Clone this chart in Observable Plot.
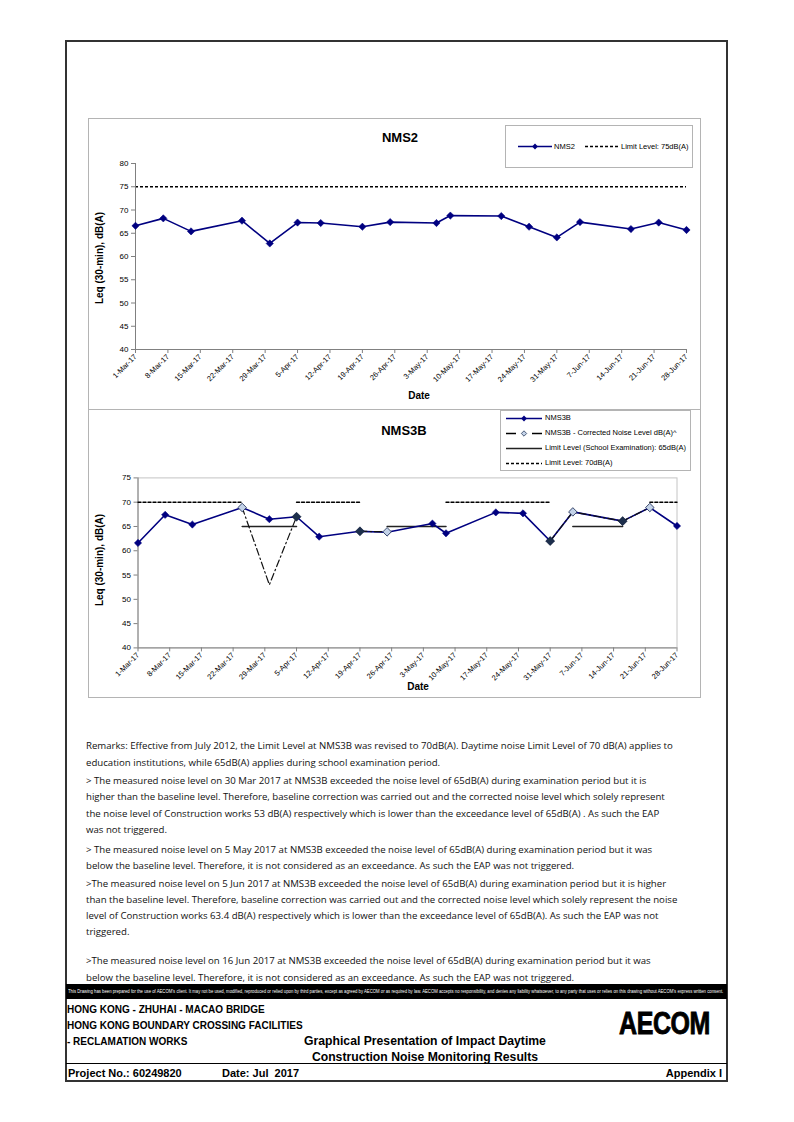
<!DOCTYPE html>
<html><head><meta charset="utf-8">
<script src="https://cdn.jsdelivr.net/npm/d3@7"></script>
<script src="https://cdn.jsdelivr.net/npm/@observablehq/plot@0.6"></script>
<style>
body{margin:0;background:#fff;}
#page{position:relative;width:794px;height:1122px;overflow:hidden;font-family:"Liberation Sans",Arial,sans-serif;color:#000;}
.a{position:absolute;white-space:nowrap;}
.a svg{display:block;}
.box{position:absolute;box-sizing:border-box;}
.lg{position:absolute;white-space:nowrap;font-size:7.5px;line-height:10px;color:#000;font-family:"Liberation Sans",Arial,sans-serif;}
.rm{position:absolute;white-space:nowrap;font-family:"Open Sans",sans-serif;font-size:10px;line-height:16px;color:#111;}
.ft{position:absolute;white-space:nowrap;font-weight:bold;color:#000;}
</style></head><body><div id="page"></div>
<script>
// ---------------- data ----------------
const sampleDates = ["1-Mar-17","7-Mar-17","13-Mar-17","24-Mar-17","30-Mar-17","5-Apr-17","10-Apr-17","19-Apr-17","25-Apr-17","5-May-17","8-May-17","19-May-17","25-May-17","31-May-17","5-Jun-17","16-Jun-17","22-Jun-17","28-Jun-17"];
const nms2Values = [66.6,68.2,65.4,67.7,62.8,67.3,67.2,66.4,67.4,67.2,68.8,68.7,66.4,64.1,67.4,65.9,67.3,65.7];
const nms2Limit = 75;
const nms3bValues = [61.6,67.4,65.4,68.9,66.5,67.0,62.9,64.0,63.8,65.6,63.6,67.9,67.7,62.0,68.0,66.1,68.9,65.1];
const nms3bCorrected = [null,null,null,68.9,53.0,67.0,null,64.0,63.9,null,null,null,null,62.0,68.0,66.1,68.9,null];
const nms3bLimit70 = [70,70,70,70,null,70,70,70,null,null,70,70,70,70,null,null,70,70];
const nms3bLimit65 = [null,null,null,65,65,65,null,null,65,65,65,null,null,null,65,65,null,null];
const correctedLightDates = ["24-Mar-17","25-Apr-17","5-Jun-17","22-Jun-17"];
const correctedDarkDates = ["5-Apr-17","19-Apr-17","31-May-17","16-Jun-17"];
const xTickLabels = ["1-Mar-17","8-Mar-17","15-Mar-17","22-Mar-17","29-Mar-17","5-Apr-17","12-Apr-17","19-Apr-17","26-Apr-17","3-May-17","10-May-17","17-May-17","24-May-17","31-May-17","7-Jun-17","14-Jun-17","21-Jun-17","28-Jun-17"];
const yTicksNms2 = [40,45,50,55,60,65,70,75,80];
const yTicksNms3b = [40,45,50,55,60,65,70,75];
const yTitle = "Leq (30-min), dB(A)";
const xTitle = "Date";
const legendNms2 = ["NMS2","Limit Level: 75dB(A)"];
const legendNms3b = ["NMS3B","NMS3B - Corrected Noise Level dB(A)^","Limit Level (School Examination): 65dB(A)","Limit Level: 70dB(A)"];
const remarks = [
 "Remarks: Effective from July 2012, the Limit Level at NMS3B was revised to 70dB(A). Daytime noise Limit Level of 70 dB(A) applies to",
 "education institutions, while 65dB(A) applies during school examination period.",
 "> The measured noise level on 30 Mar 2017 at NMS3B exceeded the noise level of 65dB(A) during examination period but it is",
 "higher than the baseline level. Therefore, baseline correction was carried out and the corrected noise level which solely represent",
 "the noise level of Construction works 53 dB(A) respectively which is lower than the exceedance level of 65dB(A) .  As such the EAP",
 "was not triggered.",
 "> The measured noise level on 5 May 2017 at NMS3B exceeded the noise level of 65dB(A) during examination period but it was",
 "below the baseline level. Therefore, it is not considered as an exceedance. As such the EAP was not triggered.",
 ">The measured noise level on 5 Jun 2017 at NMS3B exceeded the noise level of 65dB(A) during examination period but it is higher",
 "than the baseline level. Therefore, baseline correction was carried out and the corrected noise level which solely represent the noise",
 "level of Construction works 63.4 dB(A) respectively which is lower than the exceedance level of 65dB(A).  As such the EAP was not",
 "triggered.",
 ">The measured noise level on 16 Jun 2017 at NMS3B exceeded the noise level of 65dB(A) during examination period but it was",
 "below the baseline level. Therefore, it is not considered as an exceedance. As such the EAP was not triggered."
];
const disclaimer = "This Drawing has been prepared for the use of AECOM's client. It may not be used, modified, reproduced or relied upon by third parties, except as agreed by AECOM or as required by law. AECOM accepts no responsibility, and denies any liability whatsoever, to any party that uses or relies on this drawing without AECOM's express written consent.";
const footerLeft = ["HONG KONG - ZHUHAI - MACAO BRIDGE","HONG KONG BOUNDARY CROSSING FACILITIES","- RECLAMATION WORKS"];
const footerTitle = ["Graphical Presentation of Impact Daytime","Construction Noise Monitoring Results"];
const projectNo = "Project No.: 60249820";
const dateText = "Date: Jul  2017";
const appendix = "Appendix I";

// ---------------- helpers ----------------
const parse = d3.utcParse("%d-%b-%y");
const page = document.getElementById("page");
const NAVY = "#000080";
function el(cls, css, html){const d=document.createElement("div");d.className=cls;Object.assign(d.style,css);if(html!==undefined)d.innerHTML=html;page.appendChild(d);return d;}
function txt(cls, css, t){const d=el(cls,css);d.textContent=t;return d;}
const rows = sampleDates.map((s,i)=>({date:parse(s), label:s, nms2:nms2Values[i], v:nms3bValues[i], corr:nms3bCorrected[i], l70:nms3bLimit70[i], l65:nms3bLimit65[i]}));
const xTicks = xTickLabels.map(parse);
const tickLabelMap = new Map(xTicks.map((d,i)=>[+d, xTickLabels[i]]));
const domainX = [parse(xTickLabels[0]), parse(xTickLabels[xTickLabels.length-1])];
const FONT = "Liberation Sans, Arial, sans-serif";

// page border
el("box",{left:"65px",top:"40px",width:"663px",height:"1042px",border:"2px solid #333"});

// ---------------- chart 1: NMS2 ----------------
el("box",{left:"88px",top:"118px",width:"613px",height:"292px",border:"1.5px solid #b4b4b4"});
const p1 = Plot.plot({
  width:612, height:291, marginLeft:47, marginRight:14, marginTop:45, marginBottom:60,
  style:{fontFamily:FONT, background:"transparent", color:"#000", overflow:"visible"},
  x:{type:"utc", domain:domainX},
  y:{domain:[40,80]},
  marks:[
    Plot.ruleY([nms2Limit],{stroke:"#000",strokeWidth:1.4,strokeDasharray:"3,2"}),
    Plot.ruleX([domainX[0]],{stroke:"#808080",strokeWidth:1}),
    Plot.ruleY([40],{stroke:"#808080",strokeWidth:1}),
    Plot.axisY({ticks:yTicksNms2, tickSize:4, tickPadding:3, fontSize:8, label:null, stroke:"#808080"}),
    Plot.axisX({ticks:xTicks, tickFormat:d=>tickLabelMap.get(+d), tickRotate:-45, tickSize:4, tickPadding:2, fontSize:7.5, label:null, stroke:"#808080"}),
    Plot.line(rows,{x:"date",y:"nms2",stroke:NAVY,strokeWidth:1.6}),
    Plot.dot(rows,{x:"date",y:"nms2",symbol:"square",rotate:45,r:2.9,fill:NAVY,stroke:NAVY,strokeWidth:0.5})
  ]
});
p1.style.position="absolute";p1.style.left="88px";p1.style.top="118px";
page.appendChild(p1);
txt("a",{left:"300px",width:"200px",textAlign:"center",top:"130px",fontSize:"13px",fontWeight:"bold",lineHeight:"16px"},"NMS2");
txt("a",{left:"369px",width:"100px",textAlign:"center",top:"389px",fontSize:"10px",fontWeight:"bold",lineHeight:"14px"},xTitle);
txt("a",{left:"40px",width:"120px",textAlign:"center",top:"251px",fontSize:"10px",fontWeight:"bold",lineHeight:"14px",transform:"rotate(-90deg)"},yTitle);
// legend NMS2
el("box",{left:"505px",top:"125px",width:"188px",height:"43px",border:"1.5px solid #b4b4b4",background:"#fff"});
el("a",{left:"517px",top:"142px"},`<svg width="36" height="9"><line x1="1" y1="4.5" x2="35" y2="4.5" stroke="${NAVY}" stroke-width="1.5"/><path d="M18 1.6 L20.9 4.5 L18 7.4 L15.1 4.5Z" fill="${NAVY}"/></svg>`);
txt("lg",{left:"554px",top:"141.5px"},legendNms2[0]);
el("a",{left:"584px",top:"142px"},`<svg width="38" height="9"><line x1="1" y1="4.5" x2="36" y2="4.5" stroke="#000" stroke-width="1.3" stroke-dasharray="3,2"/></svg>`);
txt("lg",{left:"621px",top:"141.5px"},legendNms2[1]);

// ---------------- chart 2: NMS3B ----------------
el("box",{left:"88px",top:"409px",width:"613px",height:"289px",border:"1.5px solid #b4b4b4"});
const light = new Set(correctedLightDates), dark = new Set(correctedDarkDates);
const p2 = Plot.plot({
  width:612, height:288, marginLeft:49.5, marginRight:23.5, marginTop:68.4, marginBottom:49.6,
  style:{fontFamily:FONT, background:"transparent", color:"#000", overflow:"visible"},
  x:{type:"utc", domain:domainX},
  y:{domain:[40,75]},
  marks:[
    Plot.frame({stroke:"#c4c4c4",strokeWidth:1}),
    Plot.ruleX([domainX[0]],{stroke:"#808080",strokeWidth:1}),
    Plot.ruleY([40],{stroke:"#808080",strokeWidth:1}),
    Plot.axisY({ticks:yTicksNms3b, tickSize:4, tickPadding:3, fontSize:8, label:null, stroke:"#808080"}),
    Plot.axisX({ticks:xTicks, tickFormat:d=>tickLabelMap.get(+d), tickRotate:-45, tickSize:4, tickPadding:2, fontSize:7.5, label:null, stroke:"#808080"}),
    Plot.line(rows,{x:"date",y:"l70",stroke:"#000",strokeWidth:1.4,strokeDasharray:"3,2"}),
    Plot.line(rows,{x:"date",y:"l65",stroke:"#222",strokeWidth:1.5}),
    Plot.line(rows,{x:"date",y:"v",stroke:NAVY,strokeWidth:1.6}),
    Plot.line(rows,{x:"date",y:"corr",stroke:"#111",strokeWidth:1.2,strokeDasharray:"7,3,1.5,3"}),
    Plot.dot(rows,{x:"date",y:"v",symbol:"square",rotate:45,r:2.9,fill:NAVY,stroke:NAVY,strokeWidth:0.5}),
    Plot.dot(rows.filter(d=>dark.has(d.label)),{x:"date",y:"corr",symbol:"square",rotate:45,r:3.6,fill:"#1d2f4c",stroke:"#14213a",strokeWidth:0.6}),
    Plot.dot(rows.filter(d=>light.has(d.label)),{x:"date",y:"corr",symbol:"square",rotate:45,r:3.4,fill:"#c3d2e8",stroke:"#2a3b5c",strokeWidth:0.8})
  ]
});
p2.style.position="absolute";p2.style.left="88px";p2.style.top="409px";
page.appendChild(p2);
txt("a",{left:"304px",width:"200px",textAlign:"center",top:"423px",fontSize:"13px",fontWeight:"bold",lineHeight:"16px"},"NMS3B");
txt("a",{left:"368px",width:"100px",textAlign:"center",top:"680px",fontSize:"10px",fontWeight:"bold",lineHeight:"14px"},xTitle);
txt("a",{left:"40px",width:"120px",textAlign:"center",top:"553px",fontSize:"10px",fontWeight:"bold",lineHeight:"14px",transform:"rotate(-90deg)"},yTitle);
// legend NMS3B
el("box",{left:"500px",top:"410px",width:"191px",height:"61px",border:"1.5px solid #b4b4b4",background:"#fff"});
const lgY=[418,433,448,463];
const sw=[
 `<svg width="38" height="9"><line x1="1" y1="4.5" x2="37" y2="4.5" stroke="${NAVY}" stroke-width="1.5"/><path d="M19 1.6 L21.9 4.5 L19 7.4 L16.1 4.5Z" fill="${NAVY}"/></svg>`,
 `<svg width="38" height="9"><line x1="1" y1="4.5" x2="11" y2="4.5" stroke="#000" stroke-width="1.5"/><line x1="27" y1="4.5" x2="37" y2="4.5" stroke="#000" stroke-width="1.5"/><path d="M19 1.8 L21.7 4.5 L19 7.2 L16.3 4.5Z" fill="#c3d2e8" stroke="#2a3b5c" stroke-width="0.8"/></svg>`,
 `<svg width="38" height="9"><line x1="1" y1="4.5" x2="37" y2="4.5" stroke="#222" stroke-width="1.4"/></svg>`,
 `<svg width="38" height="9"><line x1="1" y1="4.5" x2="37" y2="4.5" stroke="#000" stroke-width="1.3" stroke-dasharray="3,2"/></svg>`
];
lgY.forEach((y,i)=>{el("a",{left:"505px",top:(y-4.5)+"px"},sw[i]);txt("lg",{left:"545px",top:(y-5)+"px"},legendNms3b[i]);});

// ---------------- remarks ----------------
const remarkY=[746,763,781,797,814,830,850,866,884,900,916,932,961,978];
const rmEls = remarks.map((t,i)=>txt("rm",{left:"86px",top:(remarkY[i]-8)+"px"},t));
const w0 = rmEls[0].getBoundingClientRect().width;
const fs = 10*587/w0;
rmEls.forEach(e=>e.style.fontSize=fs.toFixed(2)+"px");

// ---------------- footer ----------------
const band = el("box",{left:"66px",top:"984px",width:"661px",height:"15px",background:"#000",overflow:"hidden"});
const bt = document.createElement("div");
Object.assign(bt.style,{position:"absolute",left:"2px",top:"0px",whiteSpace:"nowrap",color:"#fff",fontSize:"5px",lineHeight:"15px",fontFamily:"'Liberation Sans Narrow','Liberation Sans',Arial,sans-serif",transformOrigin:"left center"});
bt.textContent=disclaimer; band.appendChild(bt);
const bw = bt.getBoundingClientRect().width;
bt.style.transform = `scaleX(${Math.min(1, 655/bw).toFixed(3)})`;
[1010,1026,1042].forEach((y,i)=>txt("ft",{left:"67px",top:(y-7)+"px",fontSize:"10px",lineHeight:"14px"},footerLeft[i]));
[1041,1057].forEach((y,i)=>txt("ft",{left:"275px",width:"300px",textAlign:"center",top:(y-8)+"px",fontSize:"12.2px",lineHeight:"16px"},footerTitle[i]));
txt("ft",{left:"619px",top:"1004px",fontSize:"32px",lineHeight:"38px",letterSpacing:"-0.5px",transformOrigin:"left top",transform:"scaleX(0.78)",webkitTextStroke:"0.9px #000"},"AECOM");
el("box",{left:"66px",top:"1063px",width:"661px",height:"0px",borderTop:"1.5px solid #000"});
txt("ft",{left:"68px",top:"1066px",fontSize:"11px",lineHeight:"14px"},projectNo);
txt("ft",{left:"222px",top:"1066px",fontSize:"11px",lineHeight:"14px",whiteSpace:"pre"},dateText);
txt("ft",{left:"560px",width:"162px",textAlign:"right",top:"1066px",fontSize:"11px",lineHeight:"14px"},appendix);
</script></body></html>
